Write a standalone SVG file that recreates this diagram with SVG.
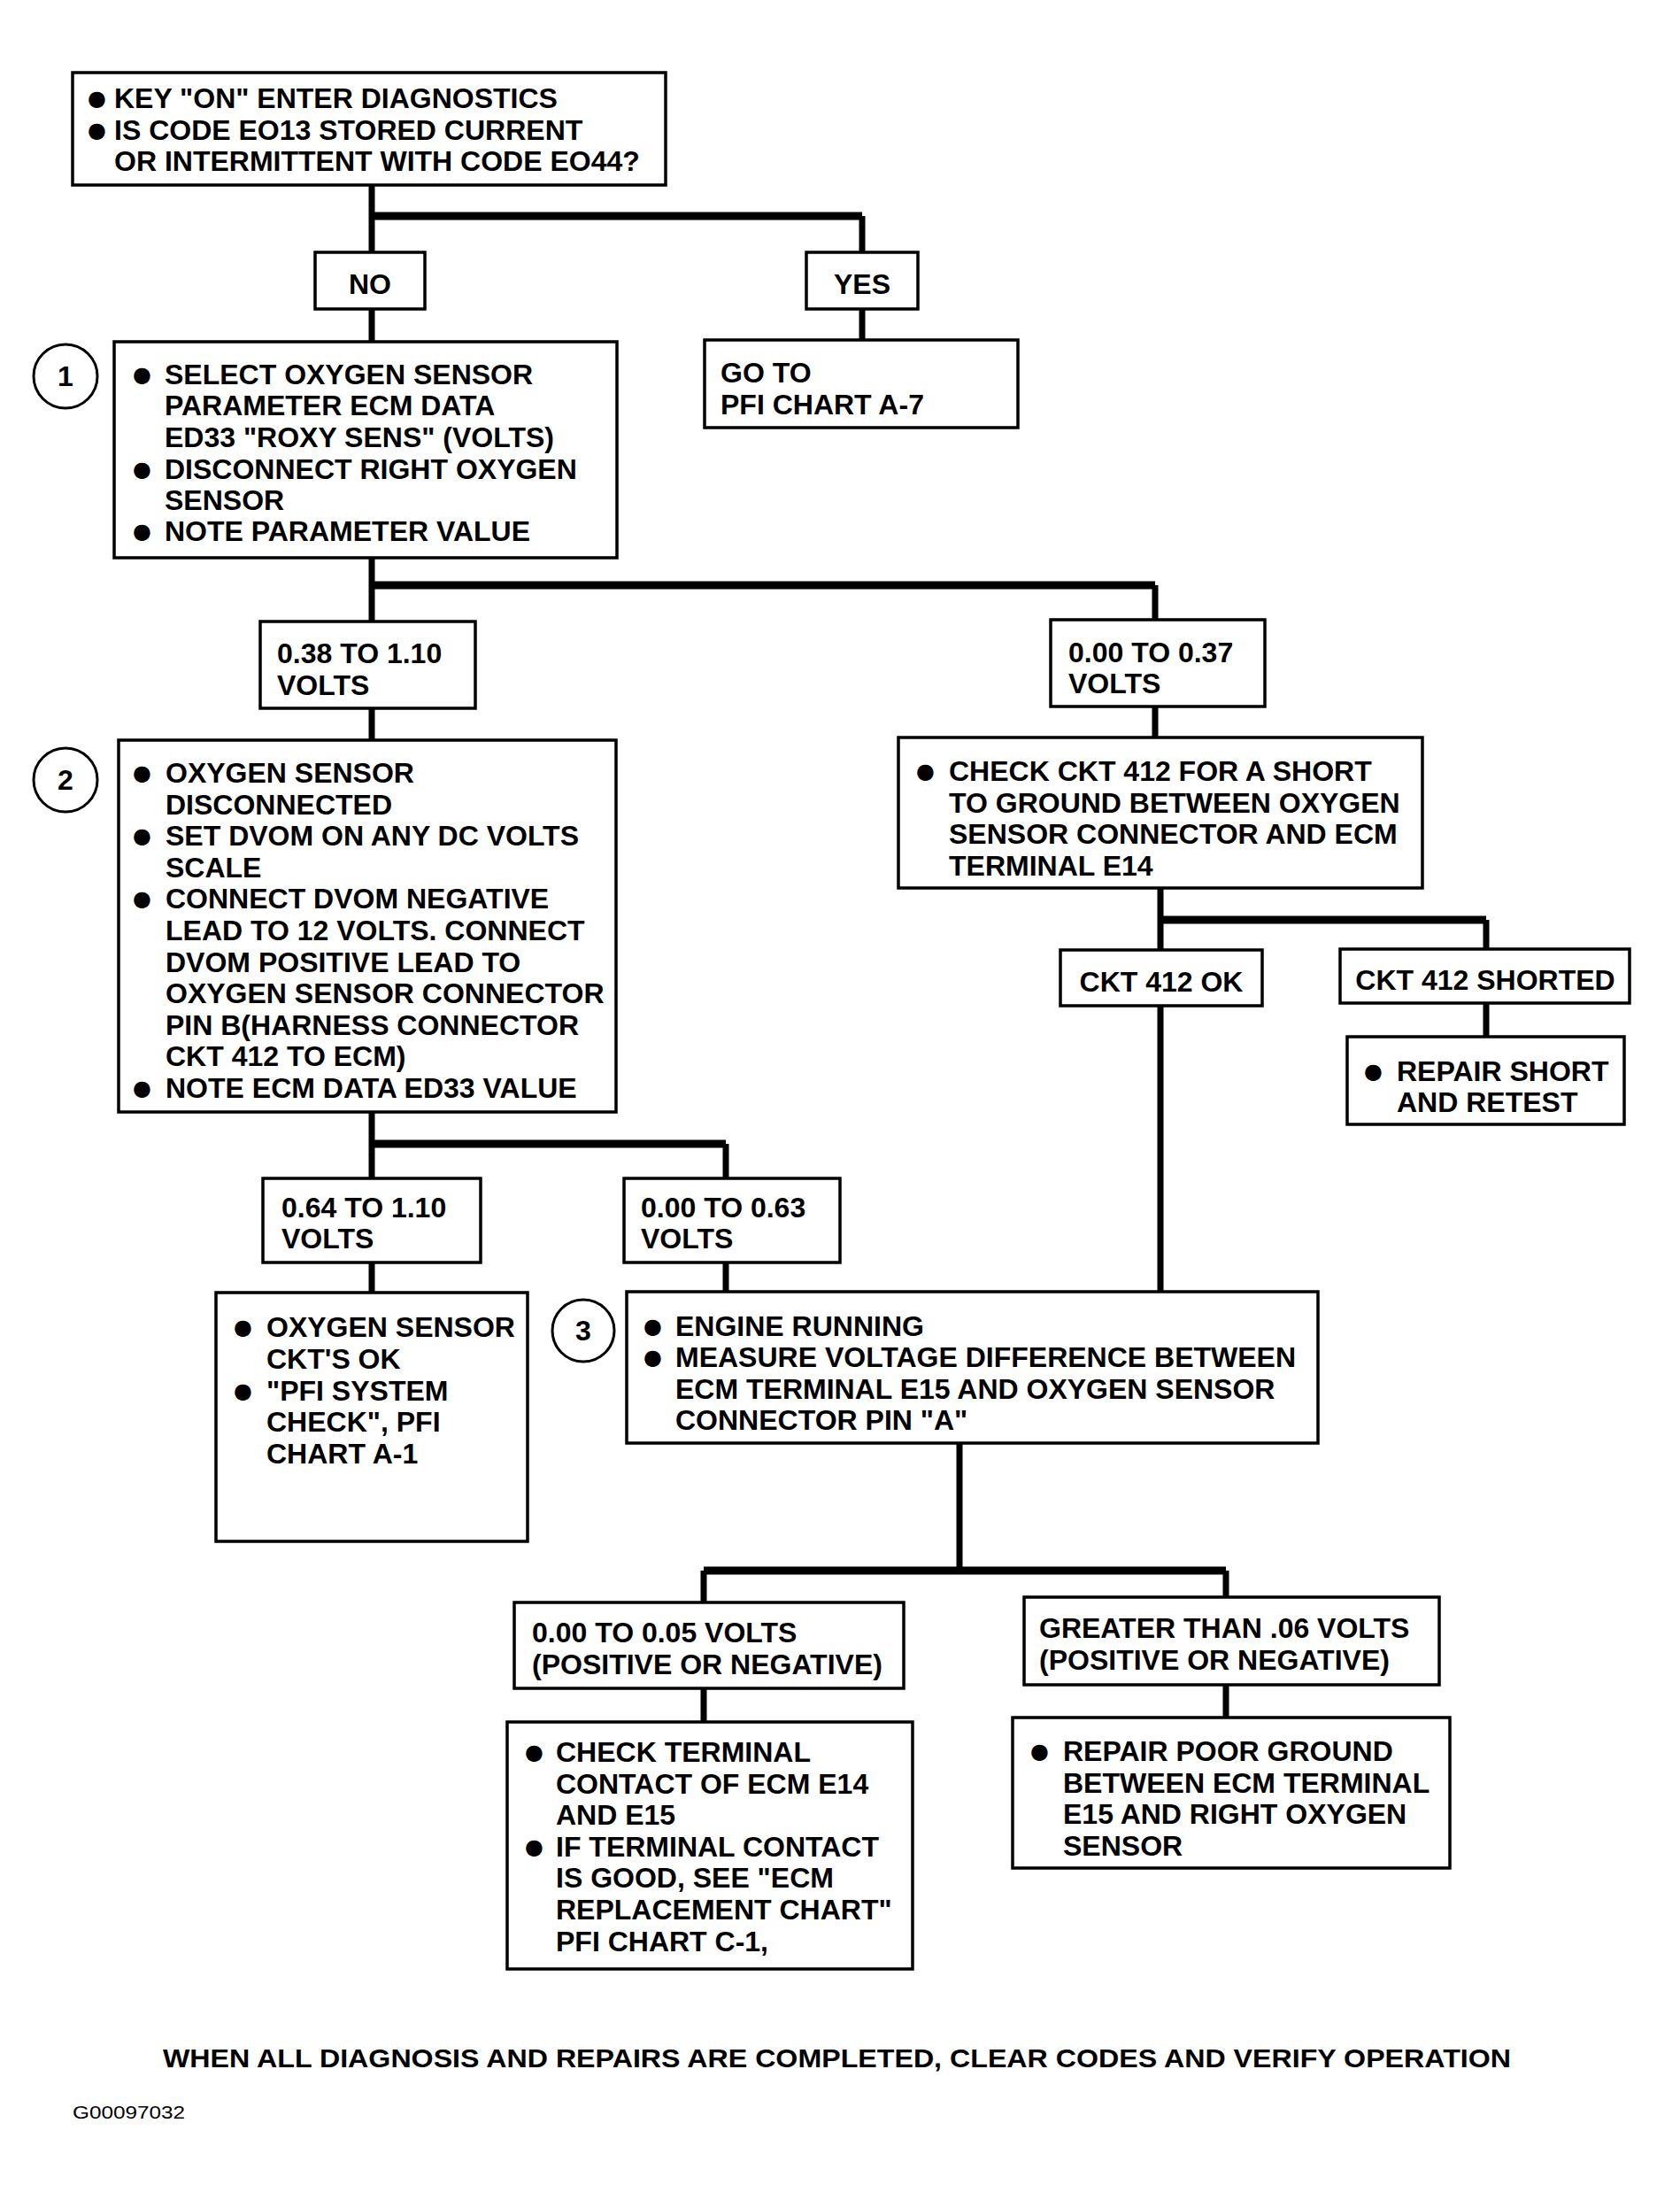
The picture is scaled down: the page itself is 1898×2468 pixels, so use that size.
<svg xmlns="http://www.w3.org/2000/svg" width="1898" height="2468" viewBox="0 0 1898 2468">
<style>
.box{fill:#fff;stroke:#000;stroke-width:3.5}
.t{font-family:"Liberation Sans",Arial,sans-serif;font-weight:bold;font-size:32px;fill:#000}
.b{font-family:"DejaVu Sans",sans-serif;font-size:24px;fill:#000}
.c{fill:#fff;stroke:#000;stroke-width:3}
.conn{fill:none;stroke:#000;stroke-width:7}
.bar{fill:none;stroke:#000;stroke-width:9}
</style>
<rect width="1898" height="2468" fill="#fff"/>
<g id="connectors">
<path class="conn" d="M420,209 V285 M974,244 V285 M420,349 V386 M974,349 V384"/>
<path class="bar" d="M420,244 H974"/>
<path class="conn" d="M420,630 V702 M1305,661 V700 M420,800 V836 M1305,798 V833"/>
<path class="bar" d="M420,661 H1305"/>
<path class="conn" d="M1311,1003 V1459 M1679,1039 V1072 M1679,1133 V1171"/>
<path class="bar" d="M1311,1039 H1679"/>
<path class="conn" d="M420,1256 V1331 M820,1292 V1331 M420,1426 V1460 M820,1426 V1459"/>
<path class="bar" d="M420,1292 H820"/>
<path class="conn" d="M1084,1630 V1774 M795,1774 V1810 M1385,1774 V1804 M795,1907 V1945 M1385,1903 V1940"/>
<path class="bar" d="M795,1774 H1385"/>
</g>
<g id="n-start">
<rect class="box" x="82" y="82" width="670" height="127"/>
<text class="b" x="99" y="119">●</text><text class="t" x="129" y="122">KEY "ON" ENTER DIAGNOSTICS</text>
<text class="b" x="99" y="155">●</text><text class="t" x="129" y="158">IS CODE EO13 STORED CURRENT</text>
<text class="t" x="129" y="193">OR INTERMITTENT WITH CODE EO44?</text>
</g>
<g id="n-no"><rect class="box" x="356" y="285" width="124" height="64"/><text class="t" x="418" y="332" text-anchor="middle">NO</text></g>
<g id="n-yes"><rect class="box" x="911" y="285" width="126" height="64"/><text class="t" x="974" y="332" text-anchor="middle">YES</text></g>
<g id="n-goto">
<rect class="box" x="796" y="384" width="354" height="99"/>
<text class="t" x="814" y="432">GO TO</text>
<text class="t" x="814" y="468">PFI CHART A-7</text>
</g>
<g id="n-step1">
<circle class="c" cx="74" cy="425" r="36"/><text class="t" x="74" y="436" text-anchor="middle">1</text>
<rect class="box" x="129" y="386" width="568" height="244"/>
<text class="b" x="150" y="431">●</text><text class="t" x="186" y="434">SELECT OXYGEN SENSOR</text>
<text class="t" x="186" y="469">PARAMETER  ECM DATA</text>
<text class="t" x="186" y="505">ED33 "ROXY SENS" (VOLTS)</text>
<text class="b" x="150" y="538">●</text><text class="t" x="186" y="541">DISCONNECT RIGHT OXYGEN</text>
<text class="t" x="186" y="576">SENSOR</text>
<text class="b" x="150" y="608">●</text><text class="t" x="186" y="611">NOTE PARAMETER VALUE</text>
</g>
<g id="n-v038">
<rect class="box" x="294" y="702" width="243" height="98"/>
<text class="t" x="313" y="749">0.38 TO 1.10</text>
<text class="t" x="313" y="785">VOLTS</text>
</g>
<g id="n-v000a">
<rect class="box" x="1187" y="700" width="242" height="98"/>
<text class="t" x="1207" y="748">0.00 TO 0.37</text>
<text class="t" x="1207" y="783">VOLTS</text>
</g>
<g id="n-step2">
<circle class="c" cx="74" cy="881" r="36"/><text class="t" x="74" y="892" text-anchor="middle">2</text>
<rect class="box" x="134" y="836" width="562" height="420"/>
<text class="b" x="150" y="881">●</text><text class="t" x="187" y="884">OXYGEN SENSOR</text>
<text class="t" x="187" y="920">DISCONNECTED</text>
<text class="b" x="150" y="952">●</text><text class="t" x="187" y="955">SET DVOM ON ANY DC VOLTS</text>
<text class="t" x="187" y="991">SCALE</text>
<text class="b" x="150" y="1023">●</text><text class="t" x="187" y="1026">CONNECT DVOM NEGATIVE</text>
<text class="t" x="187" y="1062">LEAD TO 12 VOLTS. CONNECT</text>
<text class="t" x="187" y="1098">DVOM POSITIVE LEAD TO</text>
<text class="t" x="187" y="1133">OXYGEN SENSOR CONNECTOR</text>
<text class="t" x="187" y="1169">PIN B(HARNESS CONNECTOR</text>
<text class="t" x="187" y="1204">CKT 412 TO ECM)</text>
<text class="b" x="150" y="1237">●</text><text class="t" x="187" y="1240">NOTE ECM DATA ED33 VALUE</text>
</g>
<g id="n-check412">
<rect class="box" x="1015" y="833" width="592" height="170"/>
<text class="b" x="1035" y="879">●</text><text class="t" x="1072" y="882">CHECK CKT 412 FOR A SHORT</text>
<text class="t" x="1072" y="918">TO GROUND BETWEEN OXYGEN</text>
<text class="t" x="1072" y="953">SENSOR CONNECTOR AND ECM</text>
<text class="t" x="1072" y="989">TERMINAL E14</text>
</g>
<g id="n-ok412"><rect class="box" x="1198" y="1073" width="228" height="63"/><text class="t" x="1312" y="1120" text-anchor="middle">CKT 412 OK</text></g>
<g id="n-short412"><rect class="box" x="1514" y="1072" width="327" height="61"/><text class="t" x="1678" y="1118" text-anchor="middle">CKT 412 SHORTED</text></g>
<g id="n-repairshort">
<rect class="box" x="1522" y="1171" width="313" height="99"/>
<text class="b" x="1541" y="1218">●</text><text class="t" x="1578" y="1221">REPAIR SHORT</text>
<text class="t" x="1578" y="1256">AND RETEST</text>
</g>
<g id="n-v064">
<rect class="box" x="297" y="1331" width="246" height="95"/>
<text class="t" x="318" y="1375">0.64 TO 1.10</text>
<text class="t" x="318" y="1410">VOLTS</text>
</g>
<g id="n-v000b">
<rect class="box" x="705" y="1331" width="244" height="95"/>
<text class="t" x="724" y="1375">0.00 TO 0.63</text>
<text class="t" x="724" y="1410">VOLTS</text>
</g>
<g id="n-ckok">
<rect class="box" x="244" y="1460" width="352" height="281"/>
<text class="b" x="264" y="1507">●</text><text class="t" x="301" y="1510">OXYGEN SENSOR</text>
<text class="t" x="301" y="1546">CKT'S OK</text>
<text class="b" x="264" y="1579">●</text><text class="t" x="301" y="1582">"PFI SYSTEM</text>
<text class="t" x="301" y="1617">CHECK", PFI</text>
<text class="t" x="301" y="1653">CHART A-1</text>
</g>
<g id="n-step3">
<circle class="c" cx="659" cy="1503" r="35"/><text class="t" x="659" y="1514" text-anchor="middle">3</text>
<rect class="box" x="708" y="1459" width="781" height="171"/>
<text class="b" x="727" y="1506">●</text><text class="t" x="763" y="1509">ENGINE RUNNING</text>
<text class="b" x="727" y="1541">●</text><text class="t" x="763" y="1544">MEASURE VOLTAGE DIFFERENCE BETWEEN</text>
<text class="t" x="763" y="1580">ECM TERMINAL E15 AND OXYGEN SENSOR</text>
<text class="t" x="763" y="1615">CONNECTOR PIN "A"</text>
</g>
<g id="n-v005">
<rect class="box" x="581" y="1810" width="440" height="97"/>
<text class="t" x="601" y="1855">0.00 TO 0.05 VOLTS</text>
<text class="t" x="601" y="1891">(POSITIVE OR NEGATIVE)</text>
</g>
<g id="n-v006">
<rect class="box" x="1157" y="1804" width="469" height="99"/>
<text class="t" x="1174" y="1850">GREATER THAN .06 VOLTS</text>
<text class="t" x="1174" y="1886">(POSITIVE OR NEGATIVE)</text>
</g>
<g id="n-checkterm">
<rect class="box" x="573" y="1945" width="458" height="279"/>
<text class="b" x="593" y="1987">●</text><text class="t" x="628" y="1990">CHECK TERMINAL</text>
<text class="t" x="628" y="2026">CONTACT OF ECM E14</text>
<text class="t" x="628" y="2061">AND E15</text>
<text class="b" x="593" y="2094">●</text><text class="t" x="628" y="2097">IF TERMINAL CONTACT</text>
<text class="t" x="628" y="2132">IS GOOD, SEE "ECM</text>
<text class="t" x="628" y="2168">REPLACEMENT CHART"</text>
<text class="t" x="628" y="2204">PFI CHART C-1,</text>
</g>
<g id="n-repairground">
<rect class="box" x="1144" y="1940" width="494" height="170"/>
<text class="b" x="1164" y="1986">●</text><text class="t" x="1201" y="1989">REPAIR POOR GROUND</text>
<text class="t" x="1201" y="2025">BETWEEN ECM TERMINAL</text>
<text class="t" x="1201" y="2060">E15 AND RIGHT OXYGEN</text>
<text class="t" x="1201" y="2096">SENSOR</text>
</g>
<text class="t" x="184" y="2335" textLength="1523" lengthAdjust="spacingAndGlyphs" style="font-size:30px">WHEN ALL DIAGNOSIS AND REPAIRS ARE COMPLETED, CLEAR CODES AND VERIFY OPERATION</text>
<text x="82" y="2393" style="font-family:'Liberation Sans',Arial,sans-serif;font-size:21px" textLength="127" lengthAdjust="spacingAndGlyphs">G00097032</text>
</svg>
